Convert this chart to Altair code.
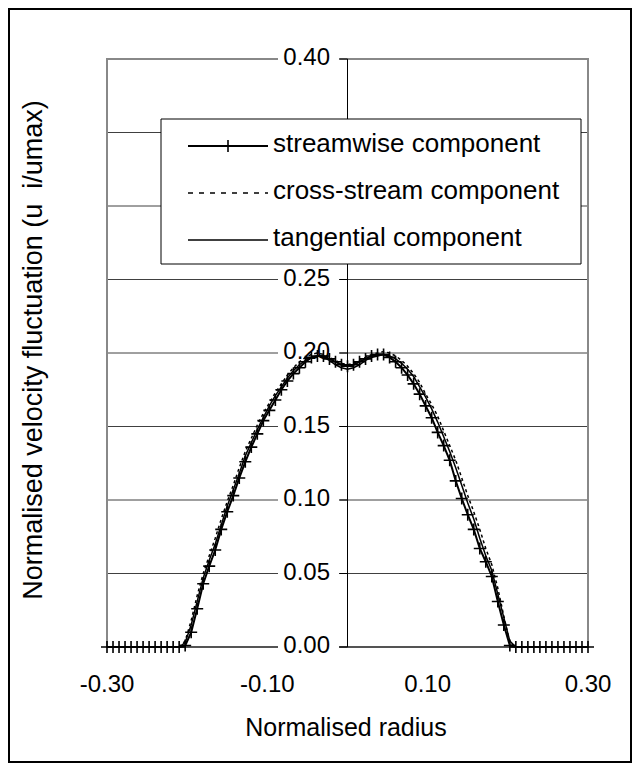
import altair as alt
import pandas as pd

# ---------------- data ----------------
radius = [
    -0.3000, -0.2925, -0.2850, -0.2775, -0.2700, -0.2625, -0.2550, -0.2475, -0.2400, -0.2325,
    -0.2250, -0.2175, -0.2100, -0.2025, -0.1950, -0.1875, -0.1800, -0.1725, -0.1650, -0.1575,
    -0.1500, -0.1425, -0.1350, -0.1275, -0.1200, -0.1125, -0.1050, -0.0975, -0.0900, -0.0825,
    -0.0750, -0.0675, -0.0600, -0.0525, -0.0450, -0.0375, -0.0300, -0.0225, -0.0150, -0.0075,
    0.0000, 0.0075, 0.0150, 0.0225, 0.0300, 0.0375, 0.0450, 0.0525, 0.0600, 0.0675,
    0.0750, 0.0825, 0.0900, 0.0975, 0.1050, 0.1125, 0.1200, 0.1275, 0.1350, 0.1425,
    0.1500, 0.1575, 0.1650, 0.1725, 0.1800, 0.1875, 0.1950, 0.2025, 0.2100, 0.2175,
    0.2250, 0.2325, 0.2400, 0.2475, 0.2550, 0.2625, 0.2700, 0.2775, 0.2850, 0.2925,
    0.3000,
]

streamwise = [
    0.000, 0.000, 0.000, 0.000, 0.000, 0.000, 0.000, 0.000, 0.000, 0.000,
    0.000, 0.000, 0.000, 0.001, 0.010, 0.026, 0.043, 0.055, 0.066, 0.080,
    0.092, 0.103, 0.115, 0.126, 0.136, 0.145, 0.154, 0.161, 0.168, 0.175,
    0.181, 0.186, 0.190, 0.194, 0.197, 0.198, 0.198, 0.196, 0.194, 0.192,
    0.191, 0.192, 0.194, 0.196, 0.198, 0.199, 0.199, 0.197, 0.194, 0.190,
    0.185, 0.179, 0.172, 0.164, 0.156, 0.146, 0.137, 0.127, 0.113, 0.101,
    0.090, 0.080, 0.067, 0.058, 0.048, 0.031, 0.015, 0.001, 0.000, 0.000,
    0.000, 0.000, 0.000, 0.000, 0.000, 0.000, 0.000, 0.000, 0.000, 0.000,
    0.000,
]

cross_stream = [
    0.000, 0.000, 0.000, 0.000, 0.000, 0.000, 0.000, 0.000, 0.000, 0.000,
    0.000, 0.000, 0.000, 0.004, 0.018, 0.035, 0.050, 0.062, 0.074, 0.087,
    0.099, 0.110, 0.122, 0.133, 0.142, 0.151, 0.159, 0.166, 0.173, 0.179,
    0.185, 0.190, 0.194, 0.197, 0.199, 0.200, 0.199, 0.197, 0.195, 0.193,
    0.192, 0.193, 0.195, 0.197, 0.199, 0.200, 0.201, 0.200, 0.198, 0.195,
    0.191, 0.186, 0.180, 0.172, 0.165, 0.157, 0.147, 0.137, 0.127, 0.115,
    0.103, 0.092, 0.080, 0.067, 0.056, 0.040, 0.021, 0.003, 0.000, 0.000,
    0.000, 0.000, 0.000, 0.000, 0.000, 0.000, 0.000, 0.000, 0.000, 0.000,
    0.000,
]

tangential = [
    0.000, 0.000, 0.000, 0.000, 0.000, 0.000, 0.000, 0.000, 0.000, 0.000,
    0.000, 0.000, 0.000, 0.003, 0.015, 0.031, 0.047, 0.059, 0.070, 0.083,
    0.096, 0.107, 0.118, 0.130, 0.139, 0.148, 0.156, 0.164, 0.171, 0.177,
    0.183, 0.188, 0.192, 0.195, 0.197, 0.198, 0.197, 0.195, 0.192, 0.190,
    0.189, 0.190, 0.192, 0.195, 0.197, 0.198, 0.199, 0.198, 0.196, 0.193,
    0.189, 0.184, 0.177, 0.170, 0.162, 0.153, 0.143, 0.133, 0.122, 0.110,
    0.098, 0.087, 0.074, 0.062, 0.052, 0.036, 0.020, 0.004, 0.000, 0.000,
    0.000, 0.000, 0.000, 0.000, 0.000, 0.000, 0.000, 0.000, 0.000, 0.000,
    0.000,
]

series_names = ["streamwise component", "cross-stream component", "tangential component"]

y_tick_values = [0.00, 0.05, 0.10, 0.15, 0.20, 0.25, 0.30, 0.35, 0.40]
y_tick_labels = ["0.00", "0.05", "0.10", "0.15", "0.20", "0.25", "0.30", "0.35", "0.40"]
y_hidden_by_legend = [0.30, 0.35]   # these two labels sit behind the legend box
x_tick_values = [-0.30, -0.10, 0.10, 0.30]
x_tick_labels = ["-0.30", "-0.10", "0.10", "0.30"]

x_title = "Normalised radius"
y_title = "Normalised velocity fluctuation (u\u00a0\u00a0i/umax)"

# ---------------- layout ----------------
W, H = 481, 588
FONT = "Liberation Sans"
Y0_PX = 240.5  # pixel of radius 0

xs = alt.Scale(domain=[-0.30, 0.30], nice=False, zero=False)
ys = alt.Scale(domain=[0.0, 0.40], nice=False, zero=False)

df = pd.DataFrame({"r": radius, "s": streamwise, "c": cross_stream, "t": tangential})
yt = pd.DataFrame({"v": y_tick_values, "lab": y_tick_labels})
yt_vis = yt[~yt.v.round(2).isin(y_hidden_by_legend)]
xt = pd.DataFrame({"r": x_tick_values, "lab": x_tick_labels})
one = pd.DataFrame({"r": [0.0]})

PLUS = "M-1,0L1,0M0,-1L0,1"

# x axis ticks (labels drawn manually)
x_axis_layer = alt.Chart(xt).mark_point(opacity=0).encode(
    x=alt.X("r:Q", scale=xs, axis=alt.Axis(values=x_tick_values, labels=False, tickSize=8,
                                            tickColor="black", tickWidth=1, domain=False,
                                            grid=False, title=None)),
    y=alt.Y("r:Q", scale=ys, axis=None),
)

grid = alt.Chart(yt).mark_rule(color="#404040", strokeWidth=1).encode(
    x=alt.value(0), x2=alt.value(W), y=alt.Y("v:Q", scale=ys, axis=None)
)

border = alt.Chart(one).mark_rect(fill="white", fillOpacity=0, stroke="#888888", strokeWidth=2).encode(
    x=alt.value(0), x2=alt.value(W), y=alt.value(0), y2=alt.value(H)
)

zero_line = alt.Chart(yt[yt.v == 0]).mark_rule(color="#202020", strokeWidth=1).encode(
    x=alt.value(0), x2=alt.value(W), y=alt.Y("v:Q", scale=ys, axis=None)
)

masks = alt.Chart(yt_vis).mark_rule(color="white", strokeWidth=6).encode(
    x=alt.value(171), x2=alt.value(232), y=alt.Y("v:Q", scale=ys, axis=None)
)

y_axis_line = alt.Chart(one).mark_rule(color="black", strokeWidth=1).encode(
    x=alt.X("r:Q", scale=xs, axis=None), y=alt.value(0), y2=alt.value(H)
)

y_ticks = alt.Chart(yt).mark_rule(color="black", strokeWidth=1).encode(
    x=alt.value(Y0_PX - 8), x2=alt.value(Y0_PX), y=alt.Y("v:Q", scale=ys, axis=None)
)

y_labels = alt.Chart(yt_vis).mark_text(font=FONT, fontSize=24, align="right", baseline="middle",
                                       color="black", dy=-1).encode(
    x=alt.value(223), y=alt.Y("v:Q", scale=ys, axis=None), text="lab:N"
)

x_labels = alt.Chart(xt).mark_text(font=FONT, fontSize=24, align="center", baseline="middle",
                                   color="black").encode(
    x=alt.X("r:Q", scale=xs, axis=None), y=alt.value(H + 38), text="lab:N"
)

line_cross = alt.Chart(df).mark_line(color="black", strokeWidth=1.5, strokeDash=[3, 3]).encode(
    x=alt.X("r:Q", scale=xs, axis=None), y=alt.Y("c:Q", scale=ys, axis=None)
)
line_tang = alt.Chart(df).mark_line(color="black", strokeWidth=1.5).encode(
    x=alt.X("r:Q", scale=xs, axis=None), y=alt.Y("t:Q", scale=ys, axis=None)
)
line_stream = alt.Chart(df).mark_line(color="black", strokeWidth=2).encode(
    x=alt.X("r:Q", scale=xs, axis=None), y=alt.Y("s:Q", scale=ys, axis=None)
)
pts_stream = alt.Chart(df).mark_point(shape=PLUS, size=144, filled=False, color="black",
                                      strokeWidth=1.6, opacity=1).encode(
    x=alt.X("r:Q", scale=xs, axis=None), y=alt.Y("s:Q", scale=ys, axis=None)
)

# legend
legend_box = alt.Chart(one).mark_rect(fill="white", stroke="black", strokeWidth=1).encode(
    x=alt.value(54), x2=alt.value(474), y=alt.value(60), y2=alt.value(205)
)
row_y = [87, 134, 181]
leg_layers = []
styles = [dict(strokeWidth=2), dict(strokeWidth=1.5, strokeDash=[5, 6]), dict(strokeWidth=1.5)]
for i, name in enumerate(series_names):
    ldf = pd.DataFrame({"lab": [name]})
    leg_layers.append(
        alt.Chart(ldf).mark_rule(color="black", **styles[i]).encode(
            x=alt.value(81), x2=alt.value(161), y=alt.value(row_y[i])
        )
    )
    leg_layers.append(
        alt.Chart(ldf).mark_text(font=FONT, fontSize=26, align="left", baseline="middle",
                                 color="black").encode(
            x=alt.value(166), y=alt.value(row_y[i] - 2), text="lab:N"
        )
    )
leg_layers.append(
    alt.Chart(one).mark_point(shape=PLUS, size=144, filled=False, color="black",
                              strokeWidth=1.6, opacity=1).encode(
        x=alt.value(121), y=alt.value(row_y[0])
    )
)

titles_df = pd.DataFrame({"xt": [x_title], "yt": [y_title]})
x_title_layer = alt.Chart(titles_df).mark_text(font=FONT, fontSize=25, align="center",
                                               baseline="middle", color="black").encode(
    x=alt.value(239), y=alt.value(669), text="xt:N"
)
y_title_layer = alt.Chart(titles_df).mark_text(font=FONT, fontSize=27, align="center",
                                               baseline="middle", color="black", angle=270).encode(
    x=alt.value(-73), y=alt.value(291), text="yt:N"
)

outer = alt.Chart(one).mark_rect(fill="white", fillOpacity=0, stroke="black", strokeWidth=2).encode(
    x=alt.value(-98), x2=alt.value(524), y=alt.value(-50), y2=alt.value(703)
)

chart = alt.layer(
    x_axis_layer, grid, border, zero_line, masks, y_axis_line, y_ticks, y_labels, x_labels,
    line_cross, line_tang, line_stream, pts_stream,
    legend_box, *leg_layers, x_title_layer, y_title_layer, outer,
).properties(
    width=W, height=H,
    padding={"left": 107, "top": 59, "right": 52, "bottom": 124},
    autosize=alt.AutoSizeParams(type="none"),
).configure_view(stroke=None).configure(background="white")

chart.save("out.html", embed_options={"renderer": "svg", "actions": False})
